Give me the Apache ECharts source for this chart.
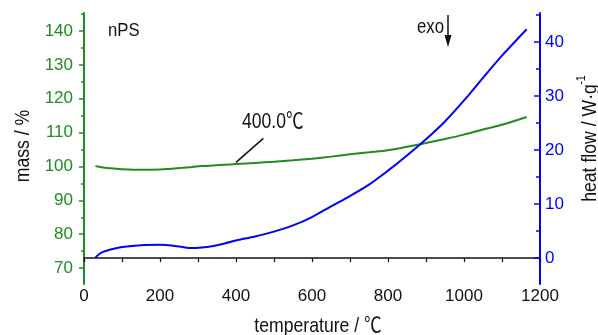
<!DOCTYPE html>
<html>
<head>
<meta charset="utf-8">
<script src="https://cdn.jsdelivr.net/npm/echarts@6/dist/echarts.min.js"></script>
<style>
  html, body { margin: 0; padding: 0; background: #fff; }
  #chart { width: 598px; height: 335px; }
</style>
</head>
<body>
<div id="chart"></div>
<script>
// TG / DSC run of nPS
const temperature = [30, 40, 50, 70, 100, 150, 200, 230, 260, 280, 310, 340, 370, 400, 450, 500,
  550, 600, 650, 700, 750, 800, 850, 900, 950, 1000, 1050, 1100, 1165];
const mass = [100.1, 99.9, 99.7, 99.45, 99.2, 99.0, 99.1, 99.35, 99.6, 99.8, 100.1, 100.3, 100.5, 100.7,
  101.05, 101.4, 101.8, 102.3, 102.9, 103.6, 104.2, 104.8, 105.8, 106.9, 108.1, 109.4, 110.9, 112.3, 114.6];
const heatFlow = [0.1, 0.75, 1.15, 1.6, 2.05, 2.4, 2.45, 2.35, 2.05, 1.85, 1.95, 2.25, 2.7, 3.25,
  4.0, 4.9, 6.05, 7.6, 9.6, 11.5, 13.6, 16.2, 19.0, 22.0, 25.3, 29.2, 33.4, 37.5, 42.4];

const massTicks = [70, 80, 90, 100, 110, 120, 130, 140];
const massMinorTicks = [75, 85, 95, 105, 115, 125, 135, 145];
const heatTicks = [0, 10, 20, 30, 40];
const heatMinorTicks = [5, 15, 25, 35, 45];
const tempTicks = [0, 200, 400, 600, 800, 1000, 1200];

// annotated point on the mass curve
const markTemp = 400.0;
const markLeader = [[400, 101.2], [472, 108.3]];

const GREEN = '#1f8c1f';
const BLUE = '#0000ff';
const INK = '#111';
const FONT = '"Liberation Sans", Arial, "Noto Sans CJK SC", sans-serif';

const chart = echarts.init(document.getElementById('chart'), null, { renderer: 'canvas' });

function zip(xs, ys) { return xs.map((x, i) => [x, ys[i]]); }

const massRange = { min: 65.3, max: 145.3 };
const heatRange = { min: -4.8, max: 45.4 };

chart.setOption({
  animation: false,
  backgroundColor: '#fff',
  grid: { left: 84, right: 58, top: 13, bottom: 51 },
  xAxis: {
    type: 'value', min: 0, max: 1200, interval: 100,
    axisLine: { show: true, lineStyle: { color: INK, width: 1.5 } },
    axisTick: { show: true, length: 4, lineStyle: { color: INK, width: 1.2 } },
    axisLabel: {
      margin: 4, color: INK, fontSize: 17, fontFamily: FONT,
      formatter: v => (tempTicks.indexOf(v) >= 0 ? String(v) : '')
    },
    splitLine: { show: false }
  },
  yAxis: [
    {
      type: 'value', position: 'left', ...massRange,
      axisLine: { show: true, lineStyle: { color: GREEN, width: 2 } },
      axisTick: { show: true, length: 5, customValues: massTicks, lineStyle: { color: GREEN, width: 1.5 } },
      axisLabel: { show: true, customValues: massTicks, margin: 11, color: GREEN, fontSize: 17, fontFamily: FONT },
      splitLine: { show: false }
    },
    {
      type: 'value', position: 'left', ...massRange,
      axisLine: { show: false },
      axisTick: { show: true, length: 3, customValues: massMinorTicks, lineStyle: { color: GREEN, width: 1.5 } },
      axisLabel: { show: false },
      splitLine: { show: false }
    },
    {
      type: 'value', position: 'right', ...heatRange,
      axisLine: { show: true, lineStyle: { color: BLUE, width: 2 } },
      axisTick: { show: true, inside: true, length: 6, customValues: heatTicks, lineStyle: { color: BLUE, width: 1.5 } },
      axisLabel: { show: true, customValues: heatTicks, margin: 5, color: BLUE, fontSize: 17, fontFamily: FONT },
      splitLine: { show: false }
    },
    {
      type: 'value', position: 'right', ...heatRange,
      axisLine: { show: false },
      axisTick: { show: true, inside: true, length: 4, customValues: heatMinorTicks, lineStyle: { color: BLUE, width: 1.5 } },
      axisLabel: { show: false },
      splitLine: { show: false }
    }
  ],
  series: [
    {
      name: 'mass', type: 'line', yAxisIndex: 0, data: zip(temperature, mass),
      smooth: 0.3, showSymbol: false, lineStyle: { color: GREEN, width: 2 },
      markLine: {
        silent: true, symbol: ['none', 'none'],
        lineStyle: { color: INK, width: 1.5, type: 'solid' },
        label: { show: false },
        data: [[{ coord: markLeader[0] }, { coord: markLeader[1] }]]
      }
    },
    {
      name: 'heat flow', type: 'line', yAxisIndex: 2, data: zip(temperature, heatFlow),
      smooth: 0.3, showSymbol: false, lineStyle: { color: BLUE, width: 2 }
    }
  ],
  graphic: [
    { type: 'text', x: 318, y: 326, scaleX: 0.84,
      style: { text: 'temperature / ℃', font: '21px ' + FONT, fill: INK, align: 'center', verticalAlign: 'middle' } },
    { type: 'text', x: 23, y: 146, rotation: Math.PI / 2, scaleX: 0.84,
      style: { text: 'mass / %', font: '21px ' + FONT, fill: INK, align: 'center', verticalAlign: 'middle' } },
    { type: 'text', x: 590, y: 143, rotation: Math.PI / 2, scaleX: 0.84,
      style: { text: 'heat flow / W·g', font: '21px ' + FONT, fill: INK, align: 'center', verticalAlign: 'middle' } },
    { type: 'text', x: 581, y: 80, rotation: Math.PI / 2, scaleX: 0.84,
      style: { text: '-1', font: '13px ' + FONT, fill: INK, align: 'center', verticalAlign: 'middle' } },
    { type: 'text', x: 108, y: 31, scaleX: 0.88,
      style: { text: 'nPS', font: '19px ' + FONT, fill: INK, align: 'left', verticalAlign: 'middle' } },
    { type: 'text', x: 417, y: 27, scaleX: 0.8,
      style: { text: 'exo', font: '21px ' + FONT, fill: INK, align: 'left', verticalAlign: 'middle' } },
    { type: 'text', x: 242, y: 122, scaleX: 0.8,
      style: { text: markTemp.toFixed(1) + '℃', font: '22px ' + FONT, fill: INK, align: 'left', verticalAlign: 'middle' } },
    { type: 'line', shape: { x1: 448, y1: 15, x2: 448, y2: 40 }, style: { stroke: INK, lineWidth: 1.5 } },
    { type: 'polygon', shape: { points: [[444.5, 35], [451.5, 35], [448, 47]] }, style: { fill: INK } }
  ]
});
</script>
</body>
</html>
